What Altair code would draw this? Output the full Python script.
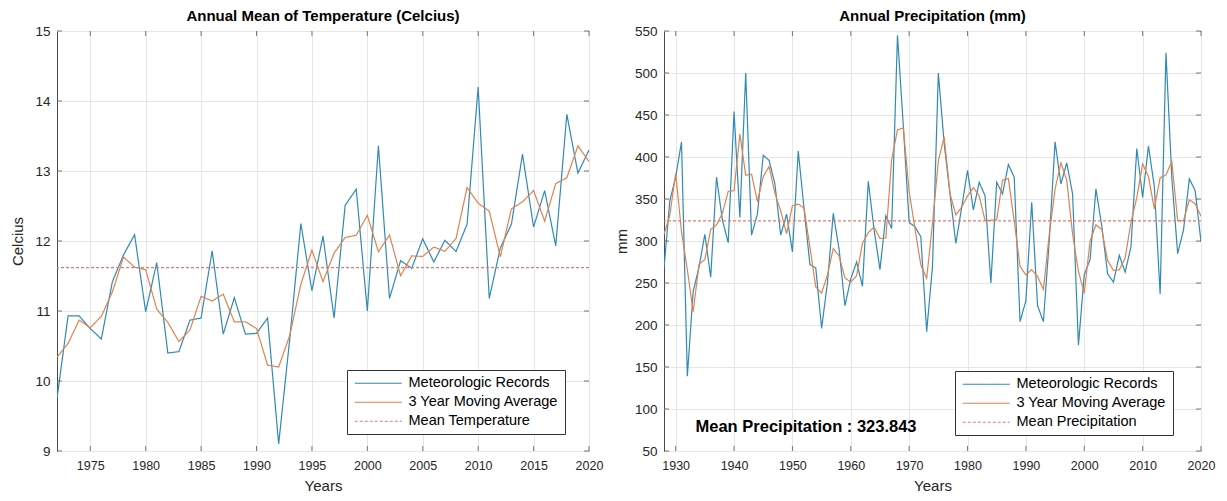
import json
import altair as alt
import pandas as pd

# ---------------- data ----------------
TEMP_YEARS = list(range(1972, 2021))
TEMP_VALUES = [
    9.75, 10.93, 10.93, 10.75, 10.60, 11.42, 11.80, 12.09, 10.99, 11.69,
    10.40, 10.42, 10.87, 10.90, 11.86, 10.67, 11.19, 10.67, 10.68, 10.90,
    9.10, 10.60, 12.25, 11.29, 12.07, 10.90, 12.51, 12.74, 11.00, 13.36,
    11.18, 11.72, 11.61, 12.03, 11.70, 12.01, 11.85, 12.24, 14.20, 11.18,
    11.90, 12.24, 13.24, 12.20, 12.72, 11.93, 13.81, 12.97, 13.30,
]
TEMP_MEAN = 11.62

PRECIP_YEARS = list(range(1928, 2021))
PRECIP_VALUES = [
    268, 348, 376, 418, 139, 240, 269, 308, 257, 376,
    325, 298, 454, 328, 500, 307, 332, 402, 396, 368,
    307, 332, 287, 407, 338, 272, 268, 196, 250, 333,
    290, 223, 255, 275, 246, 371, 313, 266, 330, 315,
    545, 437, 322, 317, 305, 192, 270, 500, 416, 356,
    297, 340, 384, 337, 370, 354, 250, 370, 356, 391,
    376, 204, 229, 346, 223, 204, 300, 418, 368, 393,
    356, 176, 260, 278, 362, 318, 261, 251, 283, 263,
    293, 410, 352, 413, 365, 237, 524, 375, 285, 313,
    374, 360, 299,
]
PRECIP_MEAN = 323.843

TEMP_XTICKS = [1975, 1980, 1985, 1990, 1995, 2000, 2005, 2010, 2015, 2020]
TEMP_YTICKS = [9, 10, 11, 12, 13, 14, 15]
PRECIP_XTICKS = [1930, 1940, 1950, 1960, 1970, 1980, 1990, 2000, 2010, 2020]
PRECIP_YTICKS = [50, 100, 150, 200, 250, 300, 350, 400, 450, 500, 550]

REC = "Meteorologic Records"
MA = "\u00a03 Year Moving Average"
MEAN_T = "Mean Temperature"
MEAN_P = "Mean Precipitation"
ANNOT = "Mean Precipitation : 323.843"

FONT = "Liberation Sans"
COLORS = ["#2f8ab5", "#e0824f", "#e07a72"]
LINE_SYMBOL = "M-4.7,0H4.7"
TICK_COLOR = "#404040"


def panel(years, values, mean_val, mean_label, xdom, xticks, ydom, yticks,
          title, ytitle, width, ytitle_pad, legend_x, legend_y, annotate=False):
    df = pd.DataFrame({"year": years, "value": values, "series": [REC] * len(years)})
    mean_df = pd.DataFrame({"value": [mean_val], "series": [mean_label]})
    xt_df = pd.DataFrame({"year": xticks})
    yt_df = pd.DataFrame({"value": yticks})
    domain = [REC, MA, mean_label]
    legend = alt.Legend(
        title=None, orient="none", legendX=legend_x, legendY=legend_y,
        symbolType=LINE_SYMBOL, symbolSize=100, symbolStrokeWidth=1.2,
        symbolOffset=18, labelOffset=23,
        labelFontSize=14.5, labelFont=FONT, labelColor="black",
        padding=6, rowPadding=4, strokeColor="#333333", fillColor="white",
        labelLimit=400,
    )
    color = alt.Color("series:N", scale=alt.Scale(domain=domain, range=COLORS), legend=legend)
    dash = alt.StrokeDash("series:N", scale=alt.Scale(domain=domain, range=[[1, 0], [1, 0], [3, 2]]), legend=legend)
    xscale = alt.Scale(domain=xdom, nice=False, zero=False)
    yscale = alt.Scale(domain=ydom, nice=False, zero=False)
    x = alt.X("year:Q", scale=xscale,
              axis=alt.Axis(values=xticks, format="d", title="Years", labelFontSize=12.5,
                            titleFontSize=15, titleFontWeight="normal", labelPadding=8,
                            titlePadding=7, ticks=False, labelFlush=False))
    y = alt.Y("value:Q", scale=yscale,
              axis=alt.Axis(values=yticks, format="d", title=ytitle, labelFontSize=13.5,
                            titleFontSize=15, titleFontWeight="normal", labelPadding=7,
                            titlePadding=ytitle_pad, ticks=False, labelFlush=False))
    rec = alt.Chart(df).mark_line(strokeWidth=1.2, clip=True).encode(
        x=x, y=y, color=color, strokeDash=dash)
    ma = alt.Chart(df).transform_window(
        ma="mean(value)", frame=[-1, 1], sort=[alt.SortField("year")]
    ).transform_calculate(series=json.dumps(MA)).mark_line(strokeWidth=1.2, clip=True).encode(
        x="year:Q", y=alt.Y("ma:Q"), color=color, strokeDash=dash)
    mean = alt.Chart(mean_df).mark_rule(strokeWidth=1.2).encode(
        y="value:Q", color=color, strokeDash=dash)
    # inward box ticks (bottom, top, left, right)
    tb = alt.Chart(xt_df).mark_tick(orient="vertical", size=5, thickness=1, color=TICK_COLOR,
                                    yOffset=-2.5).encode(x="year:Q", y=alt.datum(ydom[0]))
    tt = alt.Chart(xt_df).mark_tick(orient="vertical", size=5, thickness=1, color=TICK_COLOR,
                                    yOffset=2.5).encode(x="year:Q", y=alt.datum(ydom[1]))
    tl = alt.Chart(yt_df).mark_tick(orient="horizontal", size=5, thickness=1, color=TICK_COLOR,
                                    xOffset=2.5).encode(y="value:Q", x=alt.datum(xdom[0]))
    tr = alt.Chart(yt_df).mark_tick(orient="horizontal", size=5, thickness=1, color=TICK_COLOR,
                                    xOffset=-2.5).encode(y="value:Q", x=alt.datum(xdom[1]))
    layers = [rec, ma, mean, tb, tt, tl, tr]
    if annotate:
        ann_df = pd.DataFrame({"year": [1933.4], "value": [78], "label": [ANNOT]})
        layers.append(alt.Chart(ann_df).mark_text(
            align="left", baseline="middle", fontSize=16.5, fontWeight="bold",
            font=FONT, color="black").encode(x="year:Q", y="value:Q", text="label:N"))
    return alt.layer(*layers).properties(
        width=width, height=420,
        title=alt.TitleParams(title, fontSize=15, fontWeight="bold", font=FONT,
                              color="black", anchor="middle", offset=0),
    )


left = panel(TEMP_YEARS, TEMP_VALUES, TEMP_MEAN, MEAN_T, [1972, 2020], TEMP_XTICKS,
             [9, 15], TEMP_YTICKS, "Annual Mean of Temperature (Celcius)", "Celcius",
             532, 9, 290, 339)
right = panel(PRECIP_YEARS, PRECIP_VALUES, PRECIP_MEAN, MEAN_P, [1928, 2020], PRECIP_XTICKS,
              [50, 550], PRECIP_YTICKS, "Annual Precipitation (mm)", "mm",
              537, 5, 291, 340, annotate=True)

chart = alt.hconcat(left, right, spacing=9).resolve_scale(
    color="independent", strokeDash="independent"
).resolve_legend(color="independent", strokeDash="independent").configure(
    font=FONT, padding={"left": 2, "top": 0, "right": 2, "bottom": 0}
).configure_view(stroke="#4a4a4a", strokeWidth=1).configure_axis(
    grid=True, gridColor="#e6e6e6", gridWidth=1, domain=False,
    labelColor="#262626", titleColor="#262626", labelFont=FONT, titleFont=FONT,
)

chart.save("out.html", embed_options={"renderer": "svg", "actions": False})
